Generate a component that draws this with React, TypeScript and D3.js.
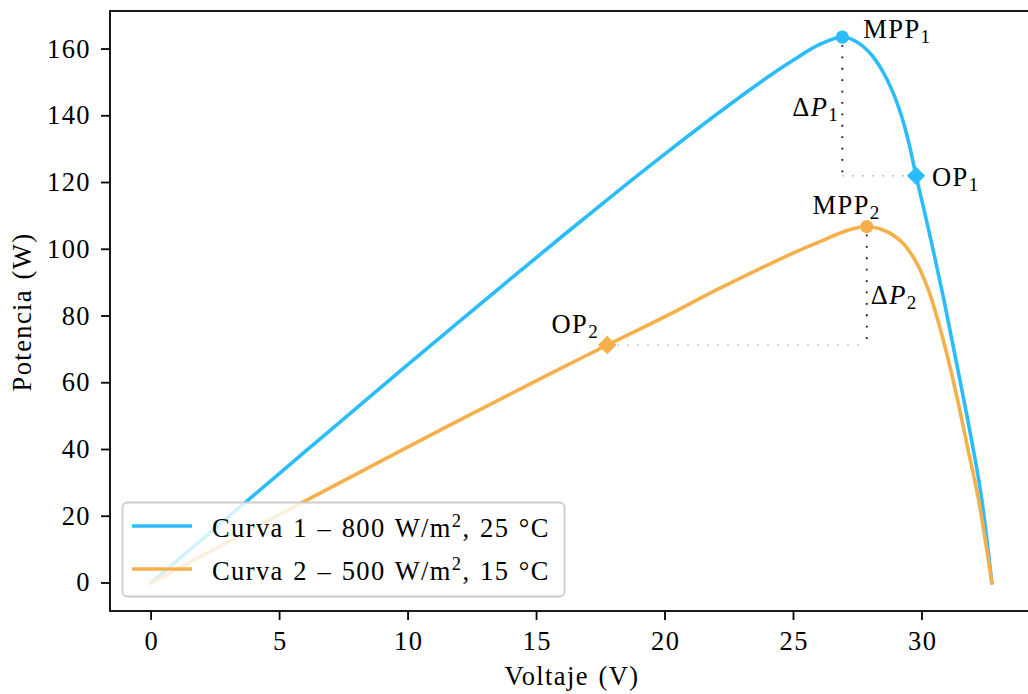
import React from "react";
import * as d3 from "d3";

// Curva 1 – 800 W/m², 25 °C
const curve1V = [0, 2, 4, 6, 8, 10, 12, 14, 16, 18, 20, 22, 24, 25, 26, 26.9, 27.45, 28.0, 28.45, 28.85, 29.2, 29.5, 29.77, 30.15, 30.5, 30.85, 31.2, 31.6, 31.95, 32.3, 32.72];
const curve1P = [0, 13.2, 26.3, 39.4, 52.5, 65.5, 78.4, 91.2, 103.9, 116.4, 128.6, 140.4, 151.6, 156.7, 161.3, 163.6, 162.2, 158.6, 153.6, 147.4, 140.0, 131.5, 122.0, 109.5, 97.5, 85, 71.5, 56, 42, 26.5, 0];

// Curva 2 – 500 W/m², 15 °C
const curve2V = [0, 2, 4, 6, 8, 10, 12, 14, 16, 17.75, 20, 22, 24, 25, 26, 26.8, 27.35, 27.85, 28.6, 29.25, 29.8, 30.25, 30.63, 31.02, 31.41, 31.8, 32.2, 32.72];
const curve2P = [0, 8.2, 16.4, 24.6, 32.7, 40.8, 48.8, 56.7, 64.5, 71.3, 79.8, 87.8, 95.3, 98.9, 102.2, 104.8, 106.2, 106.8, 105.4, 101.9, 95.8, 87.8, 78.4, 67, 54, 39.7, 25, 0];

// Maximum power points and operating points (curve 1, curve 2)
const mppV = [26.9, 27.85];
const mppP = [163.6, 106.8];
const opV = [29.77, 17.75];
const opP = [122.0, 71.3];

const legendLabels = ["Curva 1 – 800 W/m", "Curva 2 – 500 W/m"];
const legendTails = [", 25 °C", ", 15 °C"];

const xTicks = [0, 5, 10, 15, 20, 25, 30];
const yTicks = [0, 20, 40, 60, 80, 100, 120, 140, 160];

const BLUE = "#2bbdfb";
const ORANGE = "#f5b04b";
const FONT = "'Liberation Serif', 'Times New Roman', serif";
const FS = 26.5;

export default function App() {
  const W = 1028;
  const H = 694;
  const x = d3.scaleLinear().domain([-1.6, 34.36]).range([110, 1034]);
  const y = d3.scaleLinear().domain([-8.4, 171.4]).range([611, 11]);

  const line = d3
    .line<[number, number]>()
    .x((d) => x(d[0]))
    .y((d) => y(d[1]))
    .curve(d3.curveCatmullRom.alpha(0.5));

  const series = [
    { v: curve1V, p: curve1P, color: BLUE },
    { v: curve2V, p: curve2P, color: ORANGE },
  ];

  const diamond = (cx: number, cy: number, r: number) =>
    `M${cx},${cy - r}L${cx + r},${cy}L${cx},${cy + r}L${cx - r},${cy}Z`;

  const sub = (t: string) => (
    <tspan fontSize={FS * 0.72} dy={5}>
      {t}
    </tspan>
  );

  const colors = [BLUE, ORANGE];

  return (
    <svg
      width={W}
      height={H}
      style={{ position: "absolute", left: 0, top: 0, background: "#fff" }}
      fontFamily={FONT}
      fontSize={FS}
      letterSpacing={1.4}
      wordSpacing={1.5}
    >
      <rect x={0} y={0} width={W} height={H} fill="#fff" />

      {/* guide lines from each MPP to its operating point */}
      {mppV.map((mv, i) => {
        const mx = x(mv);
        const my = y(mppP[i]);
        const oy = y(opP[i]);
        const ox = x(opV[i]);
        return (
          <g key={"g" + i}>
            <line x1={Math.min(mx, ox)} x2={Math.max(mx, ox)} y1={oy} y2={oy} stroke="#bdbdbd" strokeWidth={1.6} strokeDasharray="1.6 8.4" />
            <line x1={mx} x2={mx} y1={my + 8} y2={oy} stroke="#111" strokeWidth={1.8} strokeDasharray="1.8 9.6" />
          </g>
        );
      })}

      {/* P–V curves */}
      {series.map((s, i) => (
        <path
          key={"c" + i}
          d={line(s.v.map((v, k) => [v, s.p[k]] as [number, number])) || ""}
          fill="none"
          stroke={s.color}
          strokeWidth={3.6}
          strokeLinejoin="round"
          strokeLinecap="round"
        />
      ))}

      {/* markers */}
      {mppV.map((mv, i) => (
        <circle key={"m" + i} cx={x(mv)} cy={y(mppP[i])} r={6.6} fill={colors[i]} />
      ))}
      {opV.map((ov, i) => (
        <path key={"o" + i} d={diamond(x(ov), y(opP[i]), 9.2)} fill={colors[i]} />
      ))}

      {/* annotations */}
      <text x={x(mppV[0]) + 21} y={y(mppP[0]) + 1}>
        MPP{sub("1")}
      </text>
      <text x={x(mppV[0]) - 3} y={116} textAnchor="end">
        Δ<tspan fontStyle="italic">P</tspan>
        {sub("1")}
      </text>
      <text x={x(opV[0]) + 16} y={y(opP[0]) + 10}>
        OP{sub("1")}
      </text>
      <text x={x(mppV[1]) - 20} y={y(mppP[1]) - 13} textAnchor="middle">
        MPP{sub("2")}
      </text>
      <text x={x(mppV[1]) + 4} y={304}>
        Δ<tspan fontStyle="italic">P</tspan>
        {sub("2")}
      </text>
      <text x={x(opV[1]) - 8} y={y(opP[1]) - 12} textAnchor="end">
        OP{sub("2")}
      </text>

      {/* legend */}
      <g>
        <rect x={122.5} y={502.5} width={442} height={94} rx={5} fill="#fff" fillOpacity={0.8} stroke="#cccccc" strokeWidth={1.8} />
        {legendLabels.map((lab, i) => {
          const ly = 526 + i * 43;
          return (
            <g key={"l" + i}>
              <line x1={132} x2={192} y1={ly} y2={ly} stroke={colors[i]} strokeWidth={3.6} />
              <text x={212} y={ly + 10.5}>
                {lab}
                <tspan fontSize={FS * 0.7} dy={-10}>
                  2
                </tspan>
                <tspan dy={10}>{legendTails[i]}</tspan>
              </text>
            </g>
          );
        })}
      </g>

      {/* axes frame */}
      <rect x={110} y={11} width={924} height={600} fill="none" stroke="#000" strokeWidth={1.8} />

      {/* x ticks */}
      {xTicks.map((t) => (
        <g key={"xt" + t}>
          <line x1={x(t)} x2={x(t)} y1={611} y2={620} stroke="#000" strokeWidth={1.8} />
          <text x={x(t) + 0.7} y={650} textAnchor="middle">
            {t}
          </text>
        </g>
      ))}
      {/* y ticks */}
      {yTicks.map((t) => (
        <g key={"yt" + t}>
          <line x1={101} x2={110} y1={y(t)} y2={y(t)} stroke="#000" strokeWidth={1.8} />
          <text x={91} y={y(t) + 8.5} textAnchor="end">
            {t}
          </text>
        </g>
      ))}

      <text x={572} y={685} textAnchor="middle">
        Voltaje (V)
      </text>
      <text transform={`translate(31,312) rotate(-90)`} textAnchor="middle">
        Potencia (W)
      </text>
    </svg>
  );
}
